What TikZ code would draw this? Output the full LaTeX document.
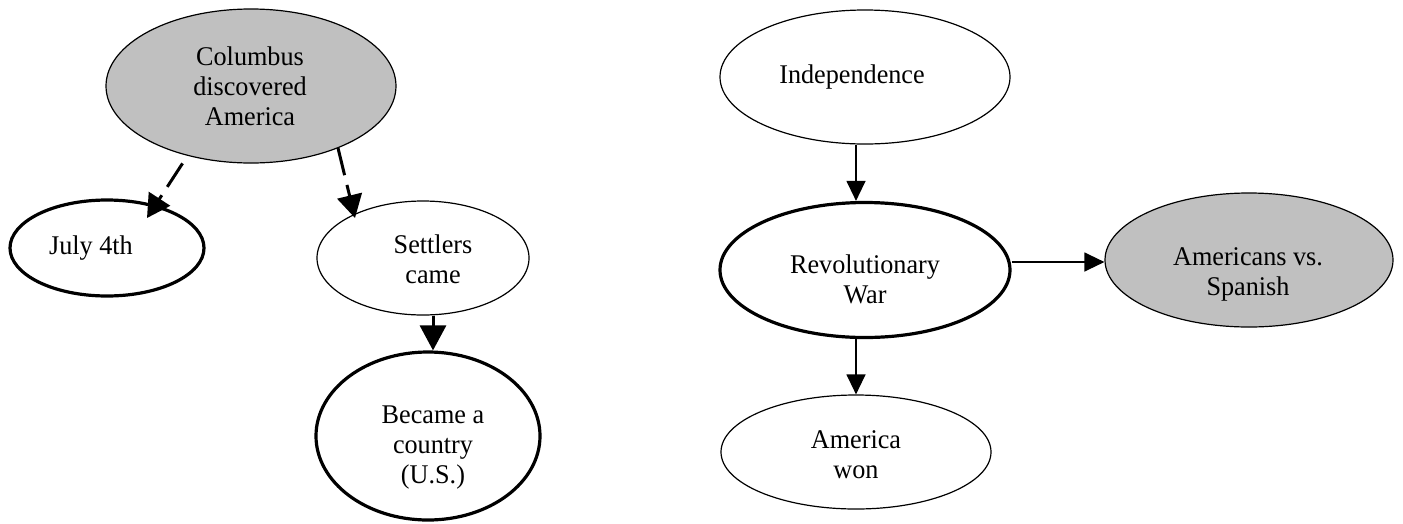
\documentclass[tikz,border=0pt]{standalone}
\usepackage{fontspec}
\setmainfont{Liberation Serif}[FakeStretch=0.97]
\usetikzlibrary{shapes.geometric,arrows.meta}
\definecolor{nodegray}{HTML}{C0C0C0}
\begin{document}
\begin{tikzpicture}[x=1pt,y=-1pt,
  ell/.style={ellipse, draw=black, fill=white, inner sep=0pt, line width=1.2pt},
  thickell/.style={ell, line width=3.2pt},
  grayell/.style={ell, fill=nodegray},
  lbl/.style={font=\fontsize{27}{30}\selectfont, align=center, anchor=base, inner sep=0pt},
  arr/.style={-{Triangle[length=20pt,width=19pt]}, line width=1.3pt},
  thickarr/.style={-{Triangle[length=25pt,width=26pt]}, line width=3pt},
  dasharr/.style={-{Triangle[length=23pt,width=25pt]}, line width=3pt, dash pattern=on 28pt off 10pt}
]
\useasboundingbox (0,0) rectangle (1403,523);

% left group
\node[grayell, minimum width=290pt, minimum height=154pt] (colum) at (251,86) {};
\node[thickell, minimum width=194pt, minimum height=96pt] (july) at (107,248) {};
\node[ell, minimum width=212pt, minimum height=114pt] (settlers) at (423,258) {};
\node[thickell, minimum width=224pt, minimum height=168pt] (became) at (428,436) {};

% labels (anchor = baseline of the last line)
\node[lbl] (tcolum) at (250,125) {Columbus\\discovered\\America};
\node[lbl] (tjuly) at (91,254) {July 4th};
\node[lbl] (tsettlers) at (433,283) {Settlers\\came};
\node[lbl] (tbecame) at (433,483) {Became a\\country\\(U.S.)};

% right group
\node[ell, minimum width=290pt, minimum height=134pt] (indep) at (865,77) {};
\node[thickell, minimum width=290pt, minimum height=135pt] (rev) at (865,270) {};
\node[ell, minimum width=270pt, minimum height=114pt] (won) at (856,452) {};
\node[grayell, minimum width=288pt, minimum height=134pt] (amer) at (1249,260) {};

\node[lbl] (tindep) at (852,83) {Independence};
\node[lbl] (trev) at (865,303) {Revolutionary\\War};
\node[lbl] (twon) at (856,478) {America\\won};
\node[lbl] (tamer) at (1248,295) {Americans vs.\\Spanish};

% connectors
\coordinate (d1a) at (188,155);
\coordinate (d1b) at (147,218);
\coordinate (d2a) at (338,148);
\coordinate (d2b) at (355,218);
\draw[dasharr, dash phase=28pt] (d1a) -- (d1b);
\draw[dasharr] (d2a) -- (d2b);
\draw[thickarr] ([xshift=10pt]settlers.south) -- ([xshift=5pt]became.north);
\draw[arr] ([xshift=-9pt]indep.south) -- ([xshift=-9pt]rev.north);
\draw[arr] ([xshift=-9pt]rev.south) -- (won.north);
\draw[arr] ([yshift=8pt]rev.east) -- ([yshift=-2pt]amer.west);
\end{tikzpicture}
\end{document}
